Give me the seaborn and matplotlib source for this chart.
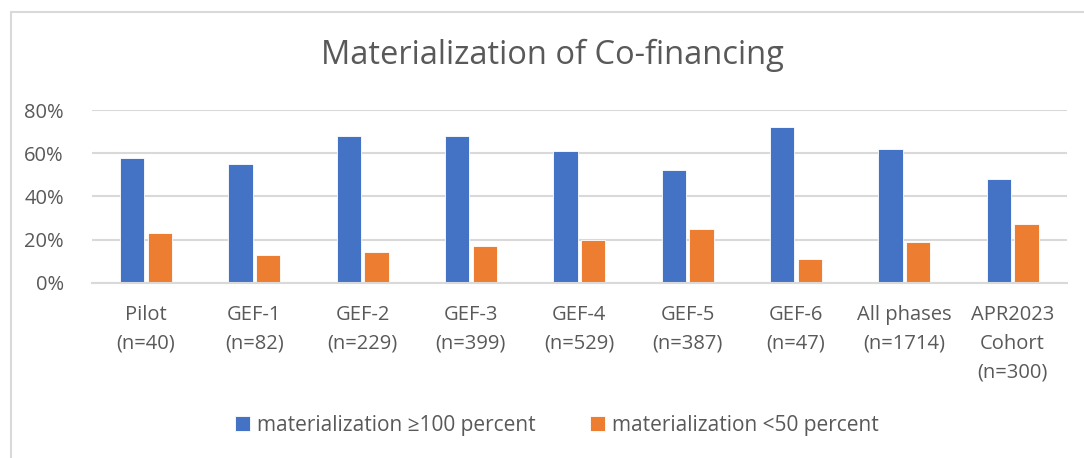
import numpy as np
import pandas as pd
import matplotlib
matplotlib.use("Agg")
import matplotlib.pyplot as plt
from matplotlib.patches import Rectangle
import seaborn as sns

# data
phases = ["Pilot\n(n=40)", "GEF-1\n(n=82)", "GEF-2\n(n=229)", "GEF-3\n(n=399)",
          "GEF-4\n(n=529)", "GEF-5\n(n=387)", "GEF-6\n(n=47)",
          "All phases\n(n=1714)", "APR2023\nCohort\n(n=300)"]
above_100 = [0.58, 0.55, 0.68, 0.68, 0.61, 0.52, 0.72, 0.62, 0.48]
below_50 = [0.23, 0.13, 0.14, 0.17, 0.20, 0.25, 0.11, 0.19, 0.27]
series_names = ["materialization \u2265100 percent", "materialization <50 percent"]
y_ticks = [0, 0.2, 0.4, 0.6, 0.8]
y_tick_labels = ["0%", "20%", "40%", "60%", "80%"]

df = pd.DataFrame({
    "phase": phases * 2,
    "value": above_100 + below_50,
    "series": [series_names[0]] * len(phases) + [series_names[1]] * len(phases),
})

text_col = "#595959"
grid_col = "#D9D9D9"

sns.set_style("white")
plt.rcParams["font.family"] = ["Open Sans", "DejaVu Sans"]

fig = plt.figure(figsize=(10.84, 4.58), dpi=100)
ax = fig.add_axes([0.0846, 0.3827, 0.8995, 0.3771])

sns.barplot(data=df, x="phase", y="value", hue="series",
            palette=["#4472C4", "#ED7D31"], saturation=1, width=0.51, gap=0.12,
            edgecolor="white", linewidth=0.6, ax=ax)

ax.set_ylim(0, 0.8)
ax.set_xlim(-0.5, len(phases) - 0.5)
ax.set_yticks(y_ticks)
ax.set_yticklabels(y_tick_labels, fontsize=14.5, color=text_col)
ax.tick_params(axis="x", labelsize=14.5, labelcolor=text_col, length=0, pad=16)
ax.tick_params(axis="y", length=0, pad=20)
ax.set_xlabel("")
ax.set_ylabel("")
for lab in ax.get_xticklabels():
    lab.set_linespacing(1.6)
    lab.set_verticalalignment("top")

ax.grid(axis="y", color=grid_col, linewidth=1.5)
ax.set_axisbelow(True)
for s in ["left", "right", "top"]:
    ax.spines[s].set_visible(False)
ax.spines["bottom"].set_color(grid_col)
ax.spines["bottom"].set_linewidth(1.5)

handles, labels = ax.get_legend_handles_labels()
ax.legend_.remove()
fig.legend(handles, labels, loc="center", ncol=2, frameon=False,
           bbox_to_anchor=(557 / 1084, 1 - 425 / 458), bbox_transform=fig.transFigure,
           fontsize=15, labelcolor=text_col, handlelength=0.7, handleheight=0.7,
           handletextpad=0.35, columnspacing=2.6)

fig.text(552 / 1084, 1 - 55 / 458, "Materialization of Co-financing",
         ha="center", va="center", fontsize=23.5, color=text_col)

# chart frame
fig.patches.append(Rectangle((11 / 1084, -0.05), 1.1, 1 - 12 / 458 + 0.05,
                             transform=fig.transFigure, fill=False,
                             edgecolor=grid_col, linewidth=1.5))

fig.savefig("out.png", dpi=100)
